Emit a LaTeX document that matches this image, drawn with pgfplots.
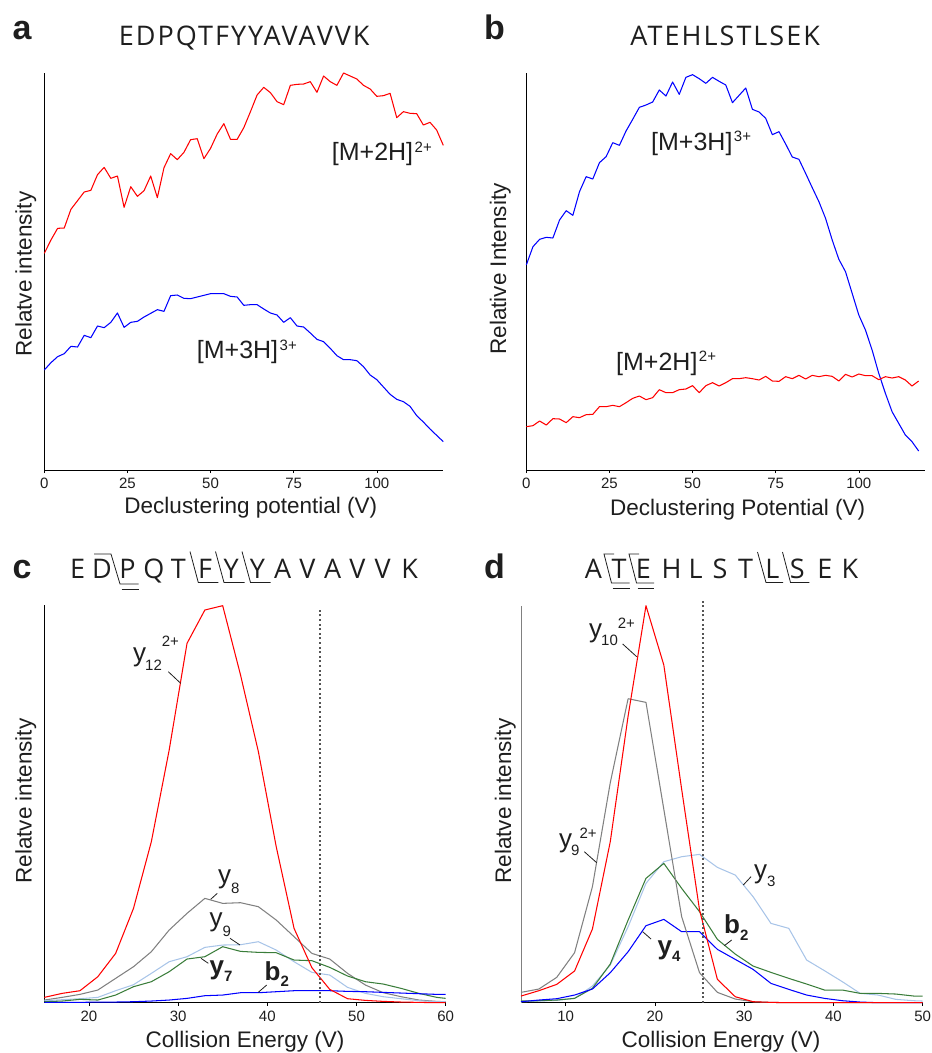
\documentclass[border=0pt]{standalone}
\usepackage{fontspec}
\setmainfont{Liberation Sans}
\newfontfamily\titlefont[LetterSpace=7.5]{Open Sans}
\newfontfamily\letterfont{Open Sans}
\usepackage{pgfplots}
\pgfplotsset{compat=1.18}
\definecolor{lblue}{HTML}{A8C4E8}
\definecolor{dgreen}{HTML}{3A7D3A}
\definecolor{mgray}{HTML}{808080}
\definecolor{txt}{HTML}{1E1E1E}
\definecolor{dotc}{HTML}{555555}
\newcommand{\fs}[1]{\fontsize{#1pt}{#1pt}\selectfont}
\pgfplotsset{panel/.style={anchor=south west, scale only axis, axis x line=bottom, axis y line=left,
  axis line style={-, line width=0.8pt}, ytick=\empty, tick align=outside, major tick length=3pt,
  tick style={line width=0.6pt, black}, xticklabel style={font=\fs{15}, inner sep=0pt, text=txt, yshift=-5pt},
  /pgf/number format/assume math mode=true, clip=false, ymin=0,
  every axis plot/.append style={line width=1.05pt, line join=round}}}
\newcommand{\T}[3]{\node[anchor=base west, inner sep=0pt, text=txt] at (#1pt,-#2pt) {#3};}
\newcommand{\Ld}[4]{\draw[txt, line width=0.8pt] (#1pt,-#2pt) -- (#3pt,-#4pt);}
\begin{document}
\begin{tikzpicture}
\path[use as bounding box] (0pt,0pt) rectangle (932pt,-1053pt);
% ---------------- panel a
\begin{axis}[panel, at={(44.3pt,-470pt)}, width=399pt, height=397pt, xmin=0, xmax=120, ymax=1191, xtick={0,25,50,75,100}]
\addplot[red] coordinates {(0,650)(2,690)(4,725)(6,726)(8,782)(10,808)(12,834)(14,839)(16,886)(18,908)(20,875)(22,882)(24,788)(26,850)(28,821)(30,838)(32,882)(34,817)(36,907)(38,949)(40,931)(42,953)(44,991)(46,994)(48,934)(50,965)(52,1008)(54,1039)(56,992)(58,992)(60,1027)(62,1075)(64,1125)(66,1148)(68,1132)(70,1105)(72,1096)(74,1154)(76,1157)(78,1158)(80,1165)(82,1133)(84,1182)(86,1165)(88,1154)(90,1191)(92,1182)(94,1173)(96,1154)(98,1143)(100,1121)(102,1123)(104,1130)(106,1057)(108,1075)(110,1070)(112,1069)(114,1035)(116,1043)(118,1020)(120,974)};
\addplot[blue] coordinates {(0,300)(2,322)(4,340)(6,349)(8,371)(10,369)(12,404)(14,397)(16,432)(18,427)(20,443)(22,471)(24,428)(26,443)(28,446)(30,459)(32,470)(34,481)(36,476)(38,523)(40,525)(42,515)(44,514)(46,519)(48,524)(50,529)(52,529)(54,529)(56,521)(58,519)(60,494)(62,496)(64,496)(66,483)(68,471)(70,465)(72,443)(74,457)(76,432)(78,429)(80,411)(82,392)(84,385)(86,365)(88,343)(90,331)(92,331)(94,328)(96,310)(98,285)(100,271)(102,249)(104,227)(106,212)(108,205)(110,191)(112,163)(114,144)(116,123)(118,104)(120,85)};
\end{axis}
% ---------------- panel b
\begin{axis}[panel, at={(526.3pt,-470pt)}, width=399pt, height=397pt, xmin=0, xmax=120, ymax=1191, xtick={0,25,50,75,100}]
\addplot[blue] coordinates {(0,615)(2,670)(4,692)(6,698)(8,696)(10,750)(12,778)(14,764)(16,835)(18,880)(20,873)(22,922)(24,940)(26,982)(28,974)(30,1017)(32,1052)(34,1088)(36,1095)(38,1104)(40,1140)(42,1122)(44,1164)(46,1127)(48,1178)(50,1186)(52,1174)(54,1160)(56,1178)(58,1166)(60,1155)(62,1102)(64,1124)(66,1146)(68,1082)(70,1074)(72,1055)(74,1006)(76,1015)(78,978)(80,939)(82,932)(84,890)(86,847)(88,805)(90,755)(92,690)(94,632)(96,595)(98,530)(100,465)(102,420)(104,360)(106,290)(108,230)(110,175)(112,140)(114,105)(116,85)(118,57)};
\addplot[red] coordinates {(0,130)(2,133)(4,147)(6,135)(8,154)(10,153)(12,142)(14,160)(16,157)(18,166)(20,167)(22,190)(24,190)(26,194)(28,190)(30,202)(32,215)(34,222)(36,211)(38,217)(40,241)(42,232)(44,232)(46,241)(48,243)(50,253)(52,232)(54,253)(56,262)(58,252)(60,262)(62,274)(64,274)(66,277)(68,274)(70,270)(72,281)(74,267)(76,266)(78,280)(80,274)(82,284)(84,273)(86,284)(88,280)(90,284)(92,281)(94,267)(96,287)(98,279)(100,288)(102,283)(104,283)(106,271)(108,280)(110,276)(112,280)(114,270)(116,252)(118,267)};
\end{axis}
% ---------------- panel c
\begin{axis}[panel, at={(44.3pt,-1002.7pt)}, width=401.4pt, height=397.7pt, xmin=15, xmax=60, ymax=1193, xtick={20,30,40,50,60}]
\addplot[mgray] coordinates {(15,8)(17,16)(19,25)(21,38)(23,73)(25,108)(27,153)(29,218)(31,268)(33,313)(35,298)(37,300)(39,288)(41,248)(43,198)(45,148)(47,131)(49,88)(51,53)(53,30)(55,18)(57,8)(59,4)(60,3)};
\addplot[lblue] coordinates {(15,6)(17,9)(19,12)(21,16)(23,36)(25,54)(27,88)(29,123)(31,138)(33,166)(35,173)(37,174)(39,183)(41,158)(43,123)(45,91)(47,83)(49,46)(51,28)(53,18)(55,12)(57,6)(59,3)(60,3)};
\addplot[dgreen] coordinates {(15,3)(17,5)(19,10)(21,8)(23,23)(25,48)(27,63)(29,93)(31,131)(33,138)(35,168)(37,154)(39,151)(41,150)(43,128)(45,126)(47,106)(49,80)(51,63)(53,56)(55,43)(57,28)(59,16)(60,13)};
\addplot[blue] coordinates {(15,1)(17,1)(19,1)(21,2)(23,2)(25,3)(27,5)(29,8)(31,13)(33,21)(35,23)(37,30)(39,30)(41,33)(43,36)(45,36)(47,36)(49,34)(51,33)(53,31)(55,29)(57,27)(59,25)(60,25)};
\addplot[red] coordinates {(15,16)(17,28)(19,36)(21,78)(23,148)(25,283)(27,483)(29,758)(31,1078)(33,1178)(35,1191)(37,983)(39,753)(41,468)(43,223)(45,105)(47,40)(49,12)(51,7)(53,4)(55,2)(57,1)(59,0)(60,0)};
\draw[dotc, line width=1.3pt, dash pattern=on 2pt off 2.6pt] (axis cs:45.9,0) -- (axis cs:45.9,1183);
\end{axis}
% ---------------- panel d
\begin{axis}[panel, at={(521pt,-1002.7pt)}, width=401.7pt, height=397pt, xmin=5, xmax=50, ymax=1191, xtick={10,20,30,40,50}, y axis line style={mgray}]
\addplot[lblue] coordinates {(5,3)(7,5)(9,7)(11,13)(13,50)(15,113)(17,228)(19,358)(21,423)(23,438)(25,445)(27,406)(29,383)(31,318)(33,238)(35,223)(37,128)(39,96)(41,63)(43,28)(45,23)(47,10)(49,6)(50,5)};
\addplot[dgreen] coordinates {(5,5)(7,6)(9,8)(11,13)(13,43)(15,116)(17,248)(19,373)(21,418)(23,343)(25,273)(27,190)(29,146)(31,110)(33,91)(35,73)(37,56)(39,38)(41,38)(43,28)(45,28)(47,26)(49,20)(50,20)};
\addplot[blue] coordinates {(5,3)(7,8)(9,12)(11,23)(13,41)(15,90)(17,153)(19,231)(21,250)(23,213)(25,213)(27,160)(29,130)(31,100)(33,58)(35,40)(37,23)(39,13)(41,6)(43,2)(45,0)(47,0)(49,0)(50,0)};
\addplot[mgray] coordinates {(5,31)(7,41)(9,76)(11,150)(13,348)(15,660)(17,912)(19,901)(21,580)(23,258)(25,90)(27,31)(29,11)(31,3)(33,1)(35,0)(37,0)(39,0)(41,0)(43,0)(45,0)(47,0)(49,0)(50,0)};
\addplot[red] coordinates {(5,20)(7,36)(9,55)(11,95)(13,221)(15,483)(17,860)(19,1191)(21,1013)(23,640)(25,278)(27,70)(29,18)(31,3)(33,1)(35,0)(37,0)(39,0)(41,0)(43,0)(45,0)(47,0)(49,0)(50,0)};
\draw[dotc, line width=1.3pt, dash pattern=on 2pt off 2.6pt] (axis cs:25.4,0) -- (axis cs:25.4,1208);
\end{axis}
% ---------------- panel letters
\T{12.5}{39.3}{\fs{34}\bfseries a}
\T{484}{39.3}{\fs{34}\bfseries b}
\T{12.5}{578.3}{\fs{34}\bfseries c}
\T{484}{578.3}{\fs{34}\bfseries d}
% ---------------- titles a, b
\node[anchor=base, inner sep=0pt, text=txt] at (244.2pt,-45.7pt) {\titlefont\fs{27}EDPQTFYYAVAVVK};
\node[anchor=base, inner sep=0pt, text=txt] at (725.2pt,-45pt) {\titlefont\fs{27}ATEHLSTLSEK};
% ---------------- title c
\foreach \x/\l in {77.7/E,102/D,127.4/P,154/Q,178.3/T,205/F,231.2/Y,257.5/Y,282.7/A,307.4/V,332.7/A,357.4/V,382.7/V,409.7/K}
  \node[anchor=base, inner sep=0pt, text=txt] at (\x pt,-578.3pt) {\letterfont\fs{27}\l};
\draw[txt, line width=0.8pt] (94pt,-554pt) -- (111pt,-554pt) -- (120pt,-584pt) -- (138.5pt,-584pt);
\draw[txt, line width=0.8pt] (121.5pt,-589pt) -- (138.5pt,-589pt);
\draw[txt, line width=0.8pt] (190pt,-551.5pt) -- (198.3pt,-582.5pt) -- (218.3pt,-582.5pt);
\draw[txt, line width=0.8pt] (215.5pt,-551.5pt) -- (224pt,-582.5pt) -- (244.5pt,-582.5pt);
\draw[txt, line width=0.8pt] (242pt,-551.5pt) -- (250.5pt,-582.5pt) -- (270.5pt,-582.5pt);
% ---------------- title d
\foreach \x/\l in {593.3/A,619.2/T,643.3/E,671.7/H,695.7/L,720/S,745.7/T,772.3/L,797.3/S,825/E,850/K}
  \node[anchor=base, inner sep=0pt, text=txt] at (\x pt,-578.3pt) {\letterfont\fs{27}\l};
\draw[txt, line width=0.8pt] (614pt,-554pt) -- (604pt,-554pt) -- (611.5pt,-583pt) -- (629.5pt,-583pt);
\draw[txt, line width=0.8pt] (612.5pt,-588pt) -- (629.5pt,-588pt);
\draw[txt, line width=0.8pt] (639pt,-554pt) -- (629pt,-554pt) -- (636.5pt,-583pt) -- (654pt,-583pt);
\draw[txt, line width=0.8pt] (637.5pt,-588pt) -- (654pt,-588pt);
\draw[txt, line width=0.8pt] (757.5pt,-552pt) -- (766pt,-582.5pt) -- (783pt,-582.5pt);
\draw[txt, line width=0.8pt] (782.5pt,-552pt) -- (790.5pt,-582.5pt) -- (809.3pt,-582.5pt);
% ---------------- axis labels
\node[anchor=base, inner sep=0pt, text=txt] at (250.8pt,-513.3pt) {\fs{22.5}Declustering potential (V)};
\node[anchor=base, inner sep=0pt, text=txt] at (737.7pt,-515pt) {\fs{22.5}Declustering Potential (V)};
\node[anchor=base, inner sep=0pt, text=txt] at (245pt,-1047.5pt) {\fs{22.5}Collision Energy (V)};
\node[anchor=base, inner sep=0pt, text=txt] at (721pt,-1047.5pt) {\fs{22.5}Collision Energy (V)};
\node[anchor=base, rotate=90, inner sep=0pt, text=txt] at (31.7pt,-274pt) {\fs{22.5}Relatve intensity};
\node[anchor=base, rotate=90, inner sep=0pt, text=txt] at (506pt,-269pt) {\fs{22.5}Relative Intensity};
\node[anchor=base, rotate=90, inner sep=0pt, text=txt] at (31.7pt,-801pt) {\fs{22.5}Relatve intensity};
\node[anchor=base, rotate=90, inner sep=0pt, text=txt] at (511pt,-801pt) {\fs{22.5}Relatve intensity};
% ---------------- curve labels a, b
\T{331.7}{160.7}{\fs{25}[M+2H]\kern1.5pt\raisebox{8.3pt}{\fs{15}2+}}
\T{196.7}{358.3}{\fs{25}[M+3H]\kern1.5pt\raisebox{8.3pt}{\fs{15}3+}}
\T{651}{150}{\fs{25}[M+3H]\kern1.5pt\raisebox{8.3pt}{\fs{15}3+}}
\T{616}{370}{\fs{25}[M+2H]\kern1.5pt\raisebox{8.3pt}{\fs{15}2+}}
% ---------------- curve labels c
\T{133}{661.5}{\fs{26}y\kern-1pt\raisebox{-8.5pt}{\fs{15}12}\raisebox{14.8pt}{\fs{15}2+}}
\Ld{168.3}{671.7}{180.7}{683.3}
\T{218}{883.5}{\fs{26}y\raisebox{-9.5pt}{\fs{15}8}}
\Ld{210.7}{899.3}{217.3}{893.3}
\T{209.5}{926.8}{\fs{26}y\raisebox{-9.5pt}{\fs{15}9}}
\Ld{230}{938.3}{240}{945}
\T{209.5}{974}{\fs{26}\bfseries y\raisebox{-7pt}{\fs{15}7}}
\Ld{201}{958.3}{208.3}{963.3}
\T{264.5}{980}{\fs{26}\bfseries b\raisebox{-6.5pt}{\fs{15}2}}
\Ld{258.3}{992.3}{266.7}{985}
% ---------------- curve labels d
\T{589}{637}{\fs{26}y\kern-1pt\raisebox{-8pt}{\fs{15}10}\raisebox{9pt}{\fs{15}2+}}
\Ld{622.7}{644}{636.7}{656.7}
\T{559}{847}{\fs{26}y\kern-1pt\raisebox{-8pt}{\fs{15}9}\raisebox{9pt}{\fs{15}2+}}
\Ld{584.3}{851.7}{596.7}{862.7}
\T{754}{878.5}{\fs{26}y\raisebox{-8.2pt}{\fs{15}3}}
\Ld{743.3}{885}{751}{876.7}
\T{724}{933}{\fs{26}\bfseries b\raisebox{-7pt}{\fs{15}2}}
\Ld{724.3}{945.7}{731.7}{940}
\T{657.5}{954}{\fs{26}\bfseries y\raisebox{-7.7pt}{\fs{15}4}}
\Ld{642.7}{931.7}{651}{939}
\end{tikzpicture}
\end{document}
